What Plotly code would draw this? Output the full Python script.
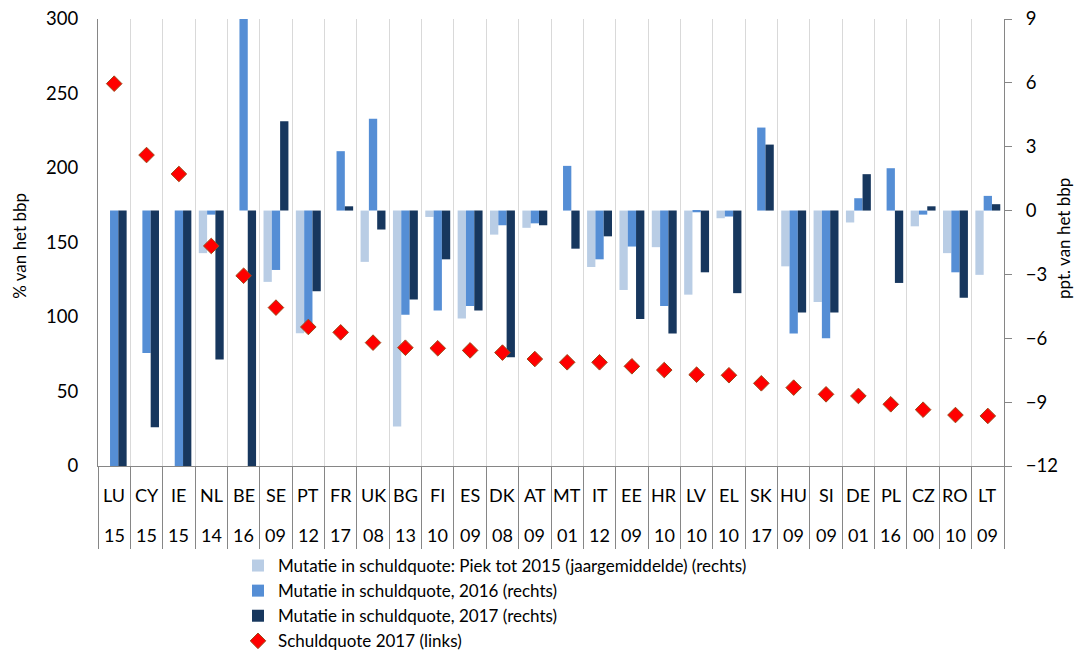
import plotly.graph_objects as go

countries = ["LU", "CY", "IE", "NL", "BE", "SE", "PT", "FR", "UK", "BG", "FI", "ES", "DK", "AT",
             "MT", "IT", "EE", "HR", "LV", "EL", "SK", "HU", "SI", "DE", "PL", "CZ", "RO", "LT"]
peak_years = ["15", "15", "15", "14", "16", "09", "12", "17", "08", "13", "10", "09", "08", "09",
              "01", "12", "09", "10", "10", "10", "17", "09", "09", "01", "16", "00", "10", "09"]

# Mutatie in schuldquote: piek tot 2015 (jaargemiddelde), ppt. bbp (rechts)
change_peak = [None, None, None, -2.0, None, -3.35, -5.76, None, -2.41, -10.15, -0.3, -5.07, -1.13, -0.81,
               None, -2.65, -3.73, -1.72, -3.95, -0.36, None, -2.62, -4.29, -0.56, None, -0.74, -2.0, -3.02]
# Mutatie in schuldquote 2016 (rechts)
change_2016 = [-13.0, -6.69, -13.0, -0.19, 10.0, -2.79, -5.5, 2.79, 4.31, -4.89, -4.70, -4.48, -0.69, -0.6,
               2.10, -2.29, -1.69, -4.48, -0.08, -0.28, 3.90, -5.78, -6.0, 0.58, 1.99, -0.19, -2.90, 0.69]
# Mutatie in schuldquote 2017 (rechts)
change_2017 = [-13.0, -10.18, -13.0, -7.0, -13.0, 4.2, -3.79, 0.2, -0.89, -4.18, -2.29, -4.70, -6.89, -0.69,
               -1.79, -1.21, -5.09, -5.78, -2.90, -3.88, 3.10, -4.79, -4.79, 1.71, -3.40, 0.2, -4.10, 0.30]
# Schuldquote 2017, % bbp (links)
debt_2017 = [256.6, 208.7, 196.0, 147.7, 127.7, 106.3, 93.3, 89.7, 82.8, 79.4, 79.0, 77.6, 76.1, 71.8,
             69.6, 69.6, 66.9, 64.4, 61.3, 60.9, 55.5, 52.6, 48.1, 47.0, 41.4, 37.8, 34.2, 33.6]

FONT = "Lato"
FS = 17
TICK_FS = 18.5
AXIS_GREY = "#868686"

fig = go.Figure()
fig.add_trace(go.Bar(x=countries, y=change_peak, yaxis="y",
                     name="Mutatie in schuldquote: Piek tot 2015 (jaargemiddelde) (rechts)",
                     marker=dict(color="#B9CDE5", line=dict(width=0))))
fig.add_trace(go.Bar(x=countries, y=change_2016, yaxis="y",
                     name="Mutatie in schuldquote, 2016 (rechts)",
                     marker=dict(color="#558ED5", line=dict(width=0))))
fig.add_trace(go.Bar(x=countries, y=change_2017, yaxis="y",
                     name="Mutatie in schuldquote, 2017 (rechts)",
                     marker=dict(color="#17375E", line=dict(width=0))))
fig.add_trace(go.Scatter(x=countries, y=debt_2017, yaxis="y2", mode="markers",
                         name="Schuldquote 2017 (links)",
                         marker=dict(symbol="diamond", size=12, color="#FF0000",
                                     line=dict(color="#9C4A1A", width=1))))

annotations = []
for c, yr in zip(countries, peak_years):
    annotations.append(dict(x=c, y=-0.0649, xref="x", yref="paper", text=c, showarrow=False,
                            yanchor="middle", font=dict(family=FONT, size=18, color="#000000")))
    annotations.append(dict(x=c, y=-0.154, xref="x", yref="paper", text=yr, showarrow=False,
                            yanchor="middle", font=dict(family=FONT, size=18, color="#000000")))

# axis titles
annotations.append(dict(text="% van het bbp", x=-0.087, y=0.493, xref="paper", yref="paper",
                        textangle=-90, showarrow=False, xanchor="center", yanchor="middle",
                        font=dict(family=FONT, size=FS, color="#000000")))
annotations.append(dict(text="ppt. van het bbp", x=1.065, y=0.51, xref="paper", yref="paper",
                        textangle=-90, showarrow=False, xanchor="center", yanchor="middle",
                        font=dict(family=FONT, size=FS, color="#000000")))

fig.update_layout(
    width=1075, height=650,
    margin=dict(l=98, r=71, t=19, b=184, autoexpand=False),
    paper_bgcolor="white", plot_bgcolor="white",
    font=dict(family=FONT, size=FS, color="#000000"),
    barmode="group", bargap=0.23, bargroupgap=0,
    showlegend=True,
    legend=dict(x=0.1545, xanchor="left", y=-0.1834, yanchor="top",
                font=dict(family=FONT, size=FS), tracegroupgap=0, itemwidth=30,
                bgcolor="rgba(0,0,0,0)"),
    xaxis=dict(type="category", range=[-0.5, len(countries) - 0.5], automargin=False,
               showline=True, linecolor=AXIS_GREY, linewidth=1,
               ticks="outside", ticklen=82, tickcolor=AXIS_GREY, tickwidth=1,
               tickson="boundaries", showgrid=True, gridcolor="#D9D9D9", gridwidth=1,
               showticklabels=False),
    yaxis=dict(side="right", range=[-12, 9], dtick=3, tick0=0, automargin=False,
               showline=True, linecolor=AXIS_GREY, linewidth=1,
               ticks="outside", ticklen=7, tickcolor=AXIS_GREY, ticklabelstandoff=10,
               showgrid=False, zeroline=False,
               tickfont=dict(family=FONT, size=TICK_FS)),
    yaxis2=dict(overlaying="y", side="left", range=[0, 300], dtick=50, automargin=False,
                showline=True, linecolor=AXIS_GREY, linewidth=1,
                ticks="", showgrid=False, zeroline=False, ticklabelstandoff=15,
                tickfont=dict(family=FONT, size=TICK_FS)),
    annotations=annotations,
)

fig.write_html("out.html",
               config={"displayModeBar": False},
               post_script="document.body.style.margin='0';document.body.style.overflow='hidden';")
